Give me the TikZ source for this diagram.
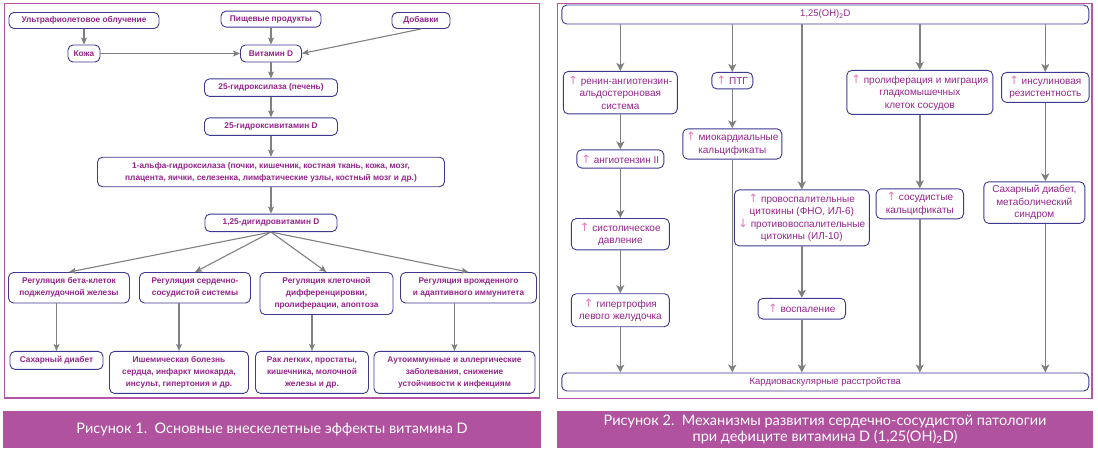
\documentclass[tikz,border=0pt]{standalone}
\usepackage{fontspec}
\setmainfont{Liberation Sans}
\newfontfamily\capfont{Lato}
\newfontfamily\arrfont{DejaVu Sans}
\usetikzlibrary{arrows.meta, positioning}
\definecolor{frameclr}{RGB}{180,85,165}
\definecolor{barclr}{RGB}{176,82,158}
\definecolor{edgeclr}{RGB}{62,56,145}
\definecolor{txtclr}{RGB}{150,36,140}
\definecolor{lineclr}{RGB}{128,128,128}
\definecolor{upclr}{RGB}{228,120,190}
\newcommand{\up}{{\arrfont\fontsize{11.5}{12}\selectfont\color{upclr}↑}}
\newcommand{\dn}{{\arrfont\fontsize{11.5}{12}\selectfont\color{upclr}↓}}
\tikzset{
  lbox/.style={draw=edgeclr, rectangle, rounded corners=5pt, fill=white, align=center, text=txtclr, font=\fontsize{8.3}{12}\selectfont\bfseries, inner xsep=3pt, inner ysep=2pt, line width=0.9pt},
  rbox/.style={lbox, font=\fontsize{10}{12.5}\selectfont},
  widebox/.style={rbox, minimum width=527pt, minimum height=19pt, font=\fontsize{9.5}{12}\selectfont},
  arrow/.style={-{Stealth[length=7pt, width=6pt, inset=1.5pt]}, draw=lineclr, line width=1.1pt},
  rarrow/.style={arrow, -{Stealth[length=8pt, width=8pt, inset=2pt]}, line width=1.4pt},
  frame/.style={draw=frameclr, line width=1.3pt},
  bar/.style={fill=barclr, text=white, inner sep=0pt, font=\capfont\fontsize{14.5}{15.5}\selectfont, align=center}
}
\begin{document}
\begin{tikzpicture}[x=1pt, y=1pt]
\useasboundingbox (0,0) rectangle (1098,-453);

% Figure 1
\draw[frame] (4.5,-3.5) rectangle (539.5,-398);
\node[bar, minimum width=538pt, minimum height=37pt] (cap1) at (272,-429.5) {Рисунок 1.\ \ Основные внескелетные эффекты витамина D};

\node[lbox, minimum width=61pt, minimum height=17pt] (vitd) at (271,-53.5) {Витамин D};
\node[lbox, minimum width=100pt, minimum height=16pt, above=17pt of vitd] (food) {Пищевые продукты};
\node[lbox, minimum width=150pt, minimum height=16pt] (uv) at (84,-20.5) {Ультрафиолетовое облучение};
\node[lbox, minimum width=58pt, minimum height=16pt] (add) at (421,-20.5) {Добавки};
\node[lbox, minimum width=32pt, minimum height=17pt] (skin) at (84,-53.5) {Кожа};

\node[lbox, minimum width=133pt, minimum height=17.5pt, below=16pt of vitd] (hydr) {25-гидроксилаза (печень)};
\node[lbox, minimum width=133pt, minimum height=17.5pt, below=20.5pt of hydr] (hvit) {25-гидроксивитамин D};
\node[lbox, minimum width=347pt, minimum height=29.5pt, below=21pt of hvit] (alpha) {1-альфа-гидроксилаза (почки, кишечник, костная ткань, кожа, мозг,\\плацента, яички, селезенка, лимфатические узлы, костный мозг и др.)};
\node[lbox, minimum width=132pt, minimum height=17.5pt, below=26.5pt of alpha] (d125) {1,25-дигидровитамин D};

\node[lbox, minimum width=121pt, minimum height=30.5pt, below=40pt of d125, xshift=-202pt] (reg1) {Регуляция бета-клеток\\поджелудочной железы};
\node[lbox, minimum width=111pt, minimum height=30.5pt, below=40pt of d125, xshift=-76pt] (reg2) {Регуляция сердечно-\\сосудистой системы};
\node[lbox, minimum width=133pt, minimum height=42pt, below=40pt of d125, xshift=55.5pt] (reg3) {Регуляция клеточной\\дифференцировки,\\пролиферации, апоптоза};
\node[lbox, minimum width=136pt, minimum height=30.5pt, below=40pt of d125, xshift=197.5pt] (reg4) {Регуляция врожденного\\и адаптивного иммунитета};

\node[lbox, minimum width=93pt, minimum height=18pt, below=47.5pt of reg1, xshift=-12.5pt] (sd) {Сахарный диабет};
\node[lbox, minimum width=139pt, minimum height=42pt, below=47.5pt of reg2, xshift=-16pt] (ihd) {Ишемическая болезнь\\сердца, инфаркт миокарда,\\инсульт, гипертония и др.};
\node[lbox, minimum width=113pt, minimum height=42pt, below=36pt of reg3, xshift=-14.5pt] (cancer) {Рак легких, простаты,\\кишечника, молочной\\железы и др.};
\node[lbox, minimum width=161pt, minimum height=42pt, below=47.5pt of reg4, xshift=-14pt] (autoimm) {Аутоиммунные и аллергические\\заболевания, снижение\\устойчивости к инфекциям};

\draw[arrow] (uv) -- (skin);
\draw[arrow] (skin) -- (vitd);
\draw[arrow] (food) -- (vitd);
\draw[arrow] (add.south) -- (vitd.east);
\draw[arrow] (vitd) -- (hydr);
\draw[arrow] (hydr) -- (hvit);
\draw[arrow] (hvit) -- (alpha);
\draw[arrow] (alpha) -- (d125);
\draw[arrow] (d125.south) -- (reg1.north);
\draw[arrow] (d125.south) -- (reg2.north);
\draw[arrow] (d125.south) -- (reg3.north);
\draw[arrow] (d125.south) -- (reg4.north);
\draw[arrow] (reg1.south -| sd.north) -- (sd.north);
\draw[arrow] (reg2.south -| ihd.north) -- (ihd.north);
\draw[arrow] (reg3.south -| cancer.north) -- (cancer.north);
\draw[arrow] (reg4.south -| autoimm.north) -- (autoimm.north);

% Figure 2
\draw[frame] (557.5,-3.5) rectangle (1092,-398.5);
\node[bar, minimum width=536pt, minimum height=37pt] (cap2) at (825,-429.5) {Рисунок 2.\ \ Механизмы развития сердечно-сосудистой патологии\\при дефиците витамина D (1,25(OH)\textsubscript{2}D)};

\node[widebox] (top) at (825.3,-14.5) {1,25(OH)\textsubscript{2}D};
\node[widebox, minimum height=18pt] (cvd) at (825.3,-382) {Кардиоваскулярные расстройства};

\node[rbox, minimum width=114pt, minimum height=42.5pt, below=46.5pt of top, xshift=-205pt] (raas) {\up{} ренин-ангиотензин-\\альдостероновая\\система};
\node[rbox, minimum width=41pt, minimum height=16.5pt, below=47.5pt of top, xshift=-93pt] (ptg) {\up{} ПТГ};
\node[rbox, minimum width=146pt, minimum height=44pt, below=45.5pt of top, xshift=94.5pt] (prolif) {\up{} пролиферация и миграция\\гладкомышечных\\клеток сосудов};
\node[rbox, minimum width=87.5pt, minimum height=30pt, below=47.5pt of top, xshift=220pt] (insul) {\up{} инсулиновая\\резистентность};
\node[rbox, minimum width=135pt, minimum height=56pt, below=165pt of top, xshift=-23.5pt] (cyto) {\up{} провоспалительные\\цитокины (ФНО, ИЛ-6)\\\dn{} противовоспалительные\\цитокины (ИЛ-10)};

\node[rbox, minimum width=87pt, minimum height=18.3pt, below=35pt of raas] (ang2) {\up{} ангиотензин II};
\node[rbox, minimum width=98pt, minimum height=31.3pt, below=49.5pt of ang2] (syst) {\up{} систолическое\\давление};
\node[rbox, minimum width=98pt, minimum height=33pt, below=43pt of syst] (lvh) {\up{} гипертрофия\\левого желудочка};
\node[rbox, minimum width=99pt, minimum height=30.3pt, below=39pt of ptg] (myo) {\up{} миокардиальные\\кальцификаты};
\node[rbox, minimum width=87.5pt, minimum height=20.8pt, below=51.5pt of cyto] (infl) {\up{} воспаление};
\node[rbox, minimum width=87.5pt, minimum height=30pt, below=73.5pt of prolif] (vasc) {\up{} сосудистые\\кальцификаты};
\node[rbox, minimum width=101pt, minimum height=41.6pt, below=78.5pt of insul, xshift=-11pt] (sdm) {Сахарный диабет,\\метаболический\\синдром};

\draw[rarrow] (top.south -| raas.north) -- (raas.north);
\draw[rarrow] (top.south -| ptg.north) -- (ptg.north);
\draw[rarrow] (top.south -| cyto.north) -- (cyto.north);
\draw[rarrow] (top.south -| prolif.north) -- (prolif.north);
\draw[rarrow] (top.south -| insul.north) -- (insul.north);
\draw[rarrow] (raas) -- (ang2);
\draw[rarrow] (ang2) -- (syst);
\draw[rarrow] (syst) -- (lvh);
\draw[rarrow] (lvh) -- (lvh |- cvd.north);
\draw[rarrow] (ptg) -- (myo);
\draw[rarrow] (myo) -- (myo |- cvd.north);
\draw[rarrow] (cyto) -- (infl);
\draw[rarrow] (infl) -- (infl |- cvd.north);
\draw[rarrow] (prolif) -- (vasc);
\draw[rarrow] (vasc) -- (vasc |- cvd.north);
\draw[rarrow] (insul.south) -- (insul.south |- sdm.north);
\draw[rarrow] (insul.south |- sdm.south) -- (insul.south |- cvd.north);

\end{tikzpicture}
\end{document}
